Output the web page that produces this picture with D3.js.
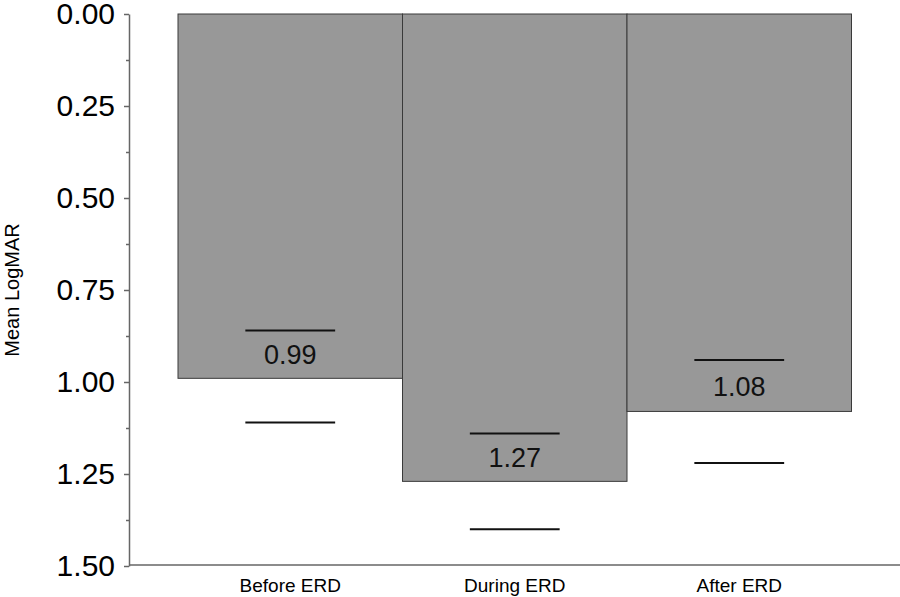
<!DOCTYPE html>
<html><head><meta charset="utf-8">
<script src="https://cdn.jsdelivr.net/npm/d3@7"></script>
<style>body{margin:0;background:#fff}svg{display:block}text{font-family:"Liberation Sans",Arial,sans-serif}</style>
</head><body><svg id="c" width="900" height="597"></svg>
<script>
const categories = ["Before ERD", "During ERD", "After ERD"];
const means = [0.99, 1.27, 1.08];
const errLow = [0.86, 1.14, 0.94];
const errHigh = [1.11, 1.40, 1.22];
const meanLabels = ["0.99", "1.27", "1.08"];
const yTicks = [0, 0.25, 0.5, 0.75, 1.0, 1.25, 1.5];
const yMinorTicks = [0.125, 0.375, 0.625, 0.875, 1.125, 1.375];

(function () {
const svg = d3.select("#c");
const axisX = 129, plotTop = 14, plotBottom = 566;
const y = d3.scaleLinear().domain([0, 1.5]).range([plotTop, plotBottom]);
const x = d3.scaleBand().domain(categories).range([178, 851.5]).padding(0);

// bars
svg.append("g").selectAll("rect").data(categories).join("rect")
  .attr("x", d => x(d)).attr("width", x.bandwidth())
  .attr("y", y(0)).attr("height", (d, i) => y(means[i]) - y(0))
  .attr("fill", "#989898").attr("stroke", "#3a3a3a").attr("stroke-width", 1);

// error lines
const ew = x.bandwidth() * 0.4;
const eg = svg.append("g").attr("stroke", "#111").attr("stroke-width", 2);
categories.forEach((c, i) => {
  const cx = x(c) + x.bandwidth() / 2;
  [errLow[i], errHigh[i]].forEach(v => {
    eg.append("line").attr("x1", cx - ew / 2).attr("x2", cx + ew / 2)
      .attr("y1", y(v)).attr("y2", y(v));
  });
  svg.append("text").attr("x", cx).attr("y", (y(errLow[i]) + y(means[i])) / 2 + 10)
    .attr("text-anchor", "middle").attr("font-size", 27).attr("fill", "#111").text(meanLabels[i]);
});

// y axis
const yAxis = d3.axisLeft(y).tickValues(yTicks).tickFormat(d3.format(".2f")).tickSize(5).tickSizeOuter(0).tickPadding(9);
const ga = svg.append("g").attr("transform", `translate(${axisX},0)`).call(yAxis);
ga.select(".domain").attr("stroke", "#666").attr("stroke-width", 1.5);
ga.selectAll(".tick line").attr("stroke", "#666").attr("stroke-width", 1.5);
ga.selectAll(".tick text").attr("font-size", 30).attr("fill", "#000").attr("font-family", "Liberation Sans, Arial, sans-serif");
const gm = svg.append("g").attr("transform", `translate(${axisX},0)`)
  .call(d3.axisLeft(y).tickValues(yMinorTicks).tickFormat("").tickSize(3).tickSizeOuter(0));
gm.select(".domain").remove();
gm.selectAll(".tick line").attr("stroke", "#666").attr("stroke-width", 1.5);

// x axis
const xa = d3.axisBottom(x).tickSize(0).tickPadding(14);
const gx = svg.append("g").attr("transform", `translate(0,${plotBottom - 1})`).call(xa);
gx.select(".domain").remove();
svg.append("line").attr("x1", axisX).attr("x2", 900).attr("y1", plotBottom - 1).attr("y2", plotBottom - 1)
  .attr("stroke", "#666").attr("stroke-width", 1.5);
gx.selectAll(".tick text").attr("font-size", 19).attr("fill", "#000").attr("font-family", "Liberation Sans, Arial, sans-serif");

// y title
svg.append("text").attr("transform", `translate(19,${(plotTop + plotBottom) / 2}) rotate(-90)`)
  .attr("text-anchor", "middle").attr("font-size", 20).attr("fill", "#000").text("Mean LogMAR");
})();
</script></body></html>
